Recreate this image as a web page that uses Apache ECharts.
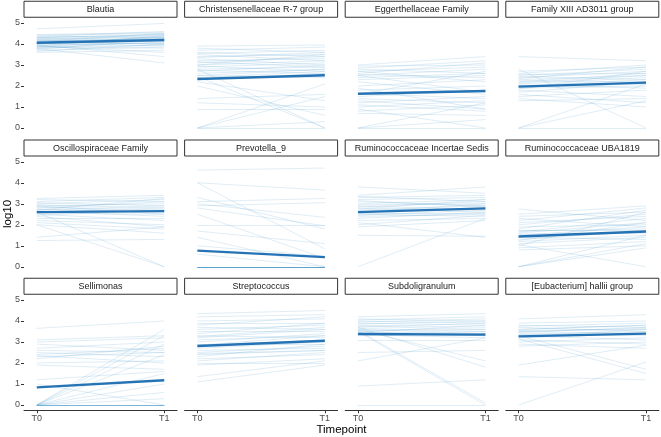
<!DOCTYPE html>
<html>
<head>
<meta charset="utf-8">
<script src="https://cdn.jsdelivr.net/npm/echarts@6/dist/echarts.min.js"></script>
<style>html,body{margin:0;padding:0;background:#fff;}#c{width:661px;height:437px;}</style>
</head>
<body>
<div id="c"></div>
<script>
const taxa = ["Blautia","Christensenellaceae R-7 group","Eggerthellaceae Family","Family XIII AD3011 group",
  "Oscillospiraceae Family","Prevotella_9","Ruminococcaceae Incertae Sedis","Ruminococcaceae UBA1819",
  "Sellimonas","Streptococcus","Subdoligranulum","[Eubacterium] hallii group"];
const timepoints = ["T0","T1"];
const yTicks = [0,1,2,3,4,5];
const xAxisTitle = "Timepoint";
const yAxisTitle = "log10";

// thick summary line per taxon (T0, T1)
const meanT0 = [4.06,2.33,1.63,1.97, 2.60,0.77,2.60,1.44, 0.84,2.81,3.38,3.27];
const meanT1 = [4.19,2.51,1.76,2.16, 2.65,0.46,2.78,1.68, 1.18,3.06,3.35,3.40];

// per-subject values
const blautiaT0 = [4.72,4.45,4.42,4.38,4.35,4.3,4.28,4.25,4.2,4.18,4.15,4.12,4.1,4.08,4.05,4.02,4.0,3.98,3.95,3.92,3.9,3.88,3.85,3.82,3.8,3.78,3.75,3.7,3.65,3.6,4.3,4.0,3.9,4.1,4.2];
const blautiaT1 = [4.98,4.55,4.5,4.3,4.6,4.45,4.2,4.4,4.35,4.1,4.25,4.5,4.3,4.0,4.15,3.9,4.35,4.2,3.4,4.05,4.4,3.8,4.25,4.1,3.95,3.1,4.2,3.85,4.0,3.7,4.45,4.3,3.6,4.0,4.15];
const christT0 = [3.9,3.8,3.7,3.6,3.55,3.5,3.4,3.35,3.3,3.2,3.15,3.1,3.0,2.95,2.9,2.8,2.75,2.7,2.6,2.5,2.45,2.4,2.3,2.2,2.0,1.4,0.9,0,0,0,0,2.8,3.0,1.2,2.5];
const christT1 = [3.95,3.6,3.85,3.4,3.7,3.2,3.5,3.6,3.0,3.3,2.9,3.4,3.2,2.7,3.1,2.9,2.6,3.0,2.8,2.4,0,2.7,2.6,1.3,0.6,1.6,0.9,0,2.1,1.5,0.3,0,3.5,1.0,2.8];
const eggerT0 = [3.0,2.95,2.85,2.8,2.7,2.6,2.55,2.5,2.4,2.3,2.2,2.0,1.8,1.65,1.5,1.4,1.3,1.2,1.1,1.0,0.9,0.8,0.7,0,0,0,2.7,1.6,2.5,1.9];
const eggerT1 = [3.4,3.0,3.2,2.6,2.9,3.1,2.4,2.8,2.6,2.5,1.6,2.3,2.0,1.4,1.8,1.2,0.9,1.5,0.8,1.3,0,1.1,0.6,1.2,0.4,0,2.2,2.7,1.7,0.9];
const famXIIIT0 = [3.4,2.8,2.7,2.6,2.55,2.5,2.45,2.4,2.3,2.25,2.2,2.1,2.05,2.0,1.95,1.9,1.8,1.7,1.6,1.5,1.4,1.3,0,0,0,2.35,2.15,1.85];
const famXIIIT1 = [3.2,0,2.9,3.0,2.6,2.8,2.3,2.7,2.5,2.2,2.6,2.4,1.9,2.3,2.1,2.0,1.5,2.2,1.2,1.8,1.0,1.4,2.1,1.3,0,2.9,2.5,2.7];
const oscilT0 = [3.25,3.2,3.1,3.05,3.0,2.95,2.9,2.85,2.8,2.75,2.7,2.65,2.6,2.55,2.5,2.45,2.4,2.3,2.2,2.1,2.0,2.0,1.4,1.25,2.6,2.9,2.7];
const oscilT1 = [3.4,3.1,3.3,2.9,3.2,2.8,3.0,2.7,3.1,2.6,2.9,2.4,2.8,2.5,2.2,2.7,1.9,2.3,2.0,1.8,0,1.6,1.9,1.3,0,2.5,3.25];
const prevoT0 = [4.6,4.0,4.0,3.1,3.0,2.8,2.9,2.0,1.7,1.4,1.0,0.6,0,0,0,0,0,0,0,0,0,0,0,0,0,0,0,0,3.3,2.5];
const prevoT1 = [4.7,3.65,0.85,3.25,2.35,1.95,3.05,2.0,1.1,0,0.5,0,0,0,0,0,0,0,0,0,0,0,0,0,0,0,0,0,1.8,0.4];
const rumIncT0 = [3.8,3.4,3.35,3.3,3.2,3.1,3.0,2.95,2.9,2.85,2.8,2.7,2.65,2.6,2.5,2.45,2.4,2.3,2.2,2.1,1.9,1.5,0,2.75,3.15,2.55,2.0];
const rumIncT1 = [3.5,3.8,3.1,3.4,3.3,2.9,3.2,3.0,2.7,3.1,2.6,2.9,2.8,3.0,2.4,2.7,2.5,2.6,2.3,1.4,2.2,1.45,2.3,3.2,2.85,2.55,2.45];
const rumUbaT0 = [2.75,2.5,2.4,2.2,2.1,2.0,1.9,1.8,1.7,1.6,1.55,1.5,1.4,1.3,1.2,1.1,1.0,0.9,0.8,0,0,0,1.05,2.3,1.65,1.75,1.25];
const rumUbaT1 = [2.2,2.9,2.6,2.8,2.4,2.5,2.0,2.7,1.8,2.1,1.6,1.9,1.3,1.7,1.5,1.4,2.6,1.2,1.0,1.1,1.5,0.9,0,1.9,2.3,1.75,2.1];
const selliT0 = [3.65,3.1,3.0,2.9,2.7,2.5,2.4,2.3,2.2,2.0,1.9,1.2,1.0,0,0,0,0,0,0,0,0,0,0,0,0,0,0,0,2.6,2.35];
const selliT1 = [4.0,3.3,3.2,2.6,3.0,2.3,2.7,2.5,2.8,2.1,1.7,1.6,0,3.6,2.4,3.3,1.5,1.0,0.6,0,0,0,0,0,0,0,0.3,2.9,2.5,2.0];
const streptT0 = [4.35,4.2,4.0,3.9,3.8,3.7,3.6,3.5,3.4,3.3,3.2,3.1,3.0,2.9,2.8,2.7,2.6,2.5,2.4,2.3,2.2,2.1,2.0,1.9,1.1,1.35,3.25,2.85,2.45];
const streptT1 = [4.5,4.3,4.1,3.9,4.2,3.6,3.8,3.5,3.9,3.2,3.6,3.3,3.4,2.9,3.1,3.0,2.7,2.8,2.6,2.9,2.4,2.5,2.0,2.2,1.9,2.1,3.7,3.3,2.6];
const subdoT0 = [4.2,4.1,4.05,4.0,3.95,3.9,3.85,3.8,3.75,3.7,3.65,3.6,3.55,3.5,3.45,3.4,3.35,3.3,3.1,2.5,2.1,0.9,0,3.6,3.5,3.55,3.7,3.4];
const subdoT1 = [4.35,4.0,4.2,3.9,4.1,3.8,4.0,3.7,3.6,3.9,3.5,3.4,3.6,3.3,3.8,3.5,3.2,3.4,3.1,2.6,3.2,1.2,0,2.1,0,0.1,1.8,3.3];
const halliiT0 = [4.1,3.9,3.8,3.75,3.7,3.6,3.55,3.5,3.45,3.4,3.35,3.3,3.25,3.2,3.1,3.0,2.9,2.8,1.9,1.35,0,3.15,3.3,3.6,3.5];
const halliiT1 = [4.3,4.0,3.7,3.9,3.5,3.8,3.6,3.4,3.7,3.3,3.5,3.1,3.6,3.4,2.9,3.2,2.7,3.0,2.85,1.2,2.05,1.5,1.7,3.8,3.65];

const subjT0 = [blautiaT0,christT0,eggerT0,famXIIIT0,oscilT0,prevoT0,rumIncT0,rumUbaT0,selliT0,streptT0,subdoT0,halliiT0];
const subjT1 = [blautiaT1,christT1,eggerT1,famXIIIT1,oscilT1,prevoT1,rumIncT1,rumUbaT1,selliT1,streptT1,subdoT1,halliiT1];

// layout
const panelW = 153, panelH = 115.5, stripH = 16.5;
const lefts = [24, 184.6, 345.2, 505.8];
const tops = [17.75, 156.5, 294.75];

const grids = [], xAxes = [], yAxes = [], series = [], graphics = [];
taxa.forEach((name, i) => {
  const r = Math.floor(i / 4), c = i % 4;
  const L = lefts[c], T = tops[r];
  grids.push({left: L, top: T, width: panelW, height: panelH, containLabel: false});
  const bottom = r === 2, leftCol = c === 0;
  xAxes.push({
    gridIndex: i, type: 'value', min: -0.1, max: 1.1,
    splitLine: {show: false},
    axisLine: {show: bottom, onZero: false, lineStyle: {color: '#333', width: 1}},
    axisTick: {show: bottom, length: 3, customValues: [0, 1], lineStyle: {color: '#333'}},
    axisLabel: {show: bottom, customValues: [0, 1], formatter: v => timepoints[Math.round(v)],
      color: '#4d4d4d', fontSize: 9, fontFamily: 'Liberation Sans, Arial', margin: 4}
  });
  yAxes.push({
    gridIndex: i, type: 'value', min: -0.25, max: 5.25,
    splitLine: {show: false},
    axisLine: {show: leftCol, onZero: false, lineStyle: {color: 'rgba(0,0,0,0)', width: 1}},
    axisTick: {show: leftCol, length: 3, customValues: yTicks, lineStyle: {color: '#333'}},
    axisLabel: {show: leftCol, customValues: yTicks, color: '#4d4d4d', fontSize: 9,
      fontFamily: 'Liberation Sans, Arial', margin: 4}
  });
  const t0 = subjT0[i], t1 = subjT1[i];
  series.push({
    type: 'lines', coordinateSystem: 'cartesian2d', xAxisIndex: i, yAxisIndex: i,
    silent: true, z: 2,
    lineStyle: {color: '#5b9fd2', width: 0.6, opacity: 0.32},
    data: t0.map((v, k) => ({coords: [[0, v], [1, t1[k]]]}))
  });
  series.push({
    type: 'line', xAxisIndex: i, yAxisIndex: i, silent: true, z: 3,
    symbol: 'none', lineStyle: {color: '#2573b4', width: 2.4},
    data: [[0, meanT0[i]], [1, meanT1[i]]]
  });
  graphics.push({
    type: 'rect', shape: {x: L, y: T - stripH, width: panelW, height: stripH - 0.5},
    style: {fill: '#fff', stroke: '#333', lineWidth: 1}, z: 10
  });
  graphics.push({
    type: 'text', x: L + panelW / 2, y: T - stripH / 2 - 0.2,
    style: {text: name, fill: '#1a1a1a', fontSize: 9, fontFamily: 'Liberation Sans, Arial',
      align: 'center', verticalAlign: 'middle'}, z: 11
  });
});
graphics.push({
  type: 'text', x: 341.5, y: 430,
  style: {text: xAxisTitle, fill: '#000', fontSize: 11.5, fontFamily: 'Liberation Sans, Arial',
    align: 'center', verticalAlign: 'middle'}
});
graphics.push({
  type: 'text', x: 7.5, y: 214, rotation: Math.PI / 2,
  style: {text: yAxisTitle, fill: '#000', fontSize: 11.5, fontFamily: 'Liberation Sans, Arial',
    align: 'center', verticalAlign: 'middle'}
});

const chart = echarts.init(document.getElementById('c'), null, {renderer: 'canvas'});
chart.setOption({
  animation: false,
  backgroundColor: '#fff',
  grid: grids, xAxis: xAxes, yAxis: yAxes, series: series, graphic: graphics
});
</script>
</body>
</html>
